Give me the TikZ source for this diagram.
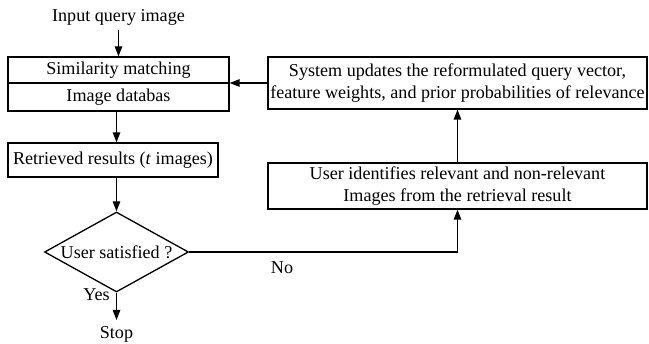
\documentclass[tikz,border=0pt]{standalone}
\usepackage{fontspec}
\setmainfont{Liberation Serif}
\usetikzlibrary{arrows.meta,shapes.geometric}
\begin{document}
\begin{tikzpicture}[x=1pt,y=-1pt,line width=1.3pt,
  font=\fontsize{18.1}{21.5}\selectfont,
  arr/.style={-{Triangle[length=10pt,width=7.5pt]}},
  box/.style={draw,inner sep=0pt,align=center},
  lbl/.style={inner sep=0pt}]
\useasboundingbox (0,0) rectangle (649,344);

% left column
\node[lbl] (input) at (118.5,17) {Input query image};
\node[box,minimum width=221pt,minimum height=26pt] (sim) at (118.5,70) {Similarity matching};
\node[box,minimum width=221pt,minimum height=28pt] (db) at (118.5,97) {Image databas};
\node[box,minimum width=210pt,minimum height=34pt] (ret) at (113,160) {Retrieved results (\textit{t} images)};
\node[draw,diamond,aspect=1.8,inner sep=0pt,minimum width=144pt,minimum height=80pt] (dia) at (116.5,252) {User satisfied ?};
\node[lbl] (stop) at (116.5,334) {Stop};
\coordinate (stoptop) at (116.5,320);

% right column
\node[box,minimum width=379pt,minimum height=52pt] (sys) at (457.5,83)
  {System updates the reformulated query vector,\\feature weights, and prior probabilities of relevance};
\node[box,minimum width=379pt,minimum height=46pt] (usr) at (457.5,186)
  {User identifies relevant and non-relevant\\Images from the retrieval result};

% connectors
\draw[arr] (input.south |- 0,30) -- (sim.north);
\draw[arr] (db.south -| dia.north) -- (ret.north -| dia.north);
\draw[arr] (ret.south -| dia.north) -- (dia.north);
\draw[arr] (dia.south) -- (stoptop);
\draw[arr] (dia.east) -| (usr.south);
\draw[arr] (usr.north) -- (sys.south);
\draw[arr] (sys.west) -- (sys.west -| sim.east);

% branch labels
\node[lbl] (yes) at (96.5,295) {Yes};
\node[lbl] (no) at (282,268) {No};
\end{tikzpicture}
\end{document}
